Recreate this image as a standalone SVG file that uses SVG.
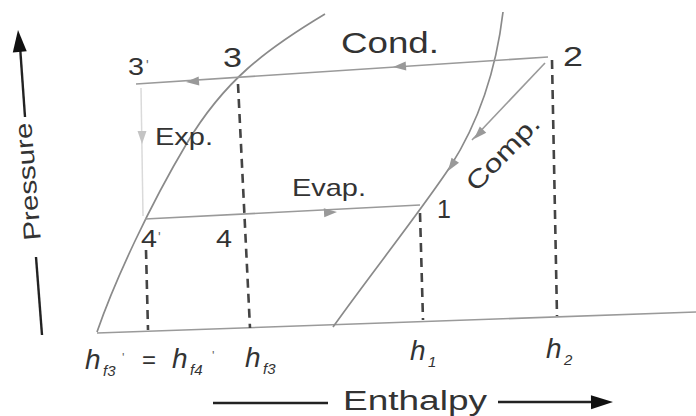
<svg xmlns="http://www.w3.org/2000/svg" width="696" height="416" viewBox="0 0 696 416">
<style>
.t{font-family:"Liberation Sans",Arial,sans-serif;fill:#333}
.h{font-family:"Liberation Sans",Arial,sans-serif;font-style:italic;fill:#333}
.p{font-family:"Liberation Sans",Arial,sans-serif;fill:#666}
.ln{stroke:#9a9a9a;stroke-width:1.6;fill:none}
.cv{stroke:#8a8a8a;stroke-width:1.7;fill:none}
.fa{stroke:#dadada;stroke-width:1.5;fill:none}
.ds{stroke:#444;stroke-width:2.6;stroke-dasharray:9 6;fill:none}
.ax{stroke:#222;stroke-width:2.4;fill:none}
.ah{fill:#999}
.al{fill:#c4c4c4}
.bh{fill:#111}
</style>
<defs>
<path id="ah" d="M0,0 L-13,-4.5 L-13,4.5 Z"/>
<path id="bh" d="M0,0 L-22,-7 L-22,7 Z"/>
</defs>
<rect width="696" height="416" fill="#fff"/>
<g id="connectors">
<path class="ln" d="M97,333 L696,312"/>
<path class="cv" d="M97,332 C115,280 150,205 187,143 S265,50 325,14"/>
<path class="cv" d="M333,327 C370,275 420,212 450,167 C475,128 495,80 503,12"/>
<path class="ln" d="M548,57 L136,84"/>
<path class="fa" d="M141,88 L143,216"/>
<path class="ln" d="M145,219 L420,205"/>
<path class="ln" d="M545,63 L472,140"/>
<path class="ds" d="M238,84 L250,328"/>
<path class="ds" d="M146,250 L148,330"/>
<path class="ds" d="M420,213 L423,320"/>
<path class="ds" d="M552,60 L557,316"/>
<use href="#ah" class="ah" transform="translate(393,67) rotate(176)"/>
<use href="#ah" class="ah" transform="translate(186,82) rotate(176)"/>
<use href="#ah" class="al" transform="translate(142,144) rotate(90)"/>
<use href="#ah" class="ah" transform="translate(337,212) rotate(-3)"/>
<use href="#ah" class="ah" transform="translate(474,139) rotate(134)"/>
<use href="#ah" class="ah" transform="translate(448,171) rotate(124)"/>
<path class="ax" d="M20,46 L25,117"/>
<path class="ax" d="M36,257 L42,335"/>
<use href="#bh" class="bh" transform="translate(18,30) rotate(-94.6)"/>
<path class="ax" d="M213,403 L328,403"/>
<path class="ax" d="M498,402 L595,402"/>
<use href="#bh" class="bh" transform="translate(613,402) rotate(-0.5)"/>
</g>
<g id="state-3prime"><text class="t" x="128" y="75" font-size="23" textLength="16" lengthAdjust="spacingAndGlyphs">3</text><text class="p" x="146" y="70" font-size="14">'</text></g>
<g id="state-3"><text class="t" x="223" y="67" font-size="27" textLength="19" lengthAdjust="spacingAndGlyphs">3</text></g>
<g id="state-2"><text class="t" x="563" y="66" font-size="27" textLength="20" lengthAdjust="spacingAndGlyphs">2</text></g>
<g id="state-1"><text class="t" x="437" y="218" font-size="25">1</text></g>
<g id="state-4prime"><text class="t" x="141" y="247" font-size="23" textLength="16" lengthAdjust="spacingAndGlyphs">4</text><text class="p" x="158" y="242" font-size="14">'</text></g>
<g id="state-4"><text class="t" x="216" y="247" font-size="23" textLength="16" lengthAdjust="spacingAndGlyphs">4</text></g>
<g id="label-cond"><text class="t" x="341" y="53" font-size="30" textLength="98" lengthAdjust="spacingAndGlyphs">Cond.</text></g>
<g id="label-exp"><text class="t" x="155" y="145" font-size="23" textLength="58" lengthAdjust="spacingAndGlyphs">Exp.</text></g>
<g id="label-evap"><text class="t" x="292" y="196" font-size="24" textLength="74" lengthAdjust="spacingAndGlyphs">Evap.</text></g>
<g id="label-comp"><text class="t" font-size="25" text-anchor="middle" textLength="94" lengthAdjust="spacingAndGlyphs" transform="translate(509,159) rotate(-46)">Comp.</text></g>
<g id="axis-pressure"><text class="t" font-size="24" text-anchor="middle" textLength="118" lengthAdjust="spacingAndGlyphs" transform="translate(36,181) rotate(-94.6)">Pressure</text></g>
<g id="axis-enthalpy"><text class="t" x="343" y="410" font-size="27" textLength="144" lengthAdjust="spacingAndGlyphs">Enthalpy</text></g>
<g id="tick-hf3p"><text class="h" x="85" y="369" font-size="28">h</text><text class="h" x="103" y="376" font-size="15">f3</text><text class="p" x="122" y="362" font-size="13">'</text></g>
<g id="tick-eq"><text class="t" x="142" y="368" font-size="24">=</text></g>
<g id="tick-hf4p"><text class="h" x="172" y="368" font-size="28">h</text><text class="h" x="190" y="375" font-size="15">f4</text><text class="p" x="212" y="360" font-size="13">'</text></g>
<g id="tick-hf3"><text class="h" x="245" y="367" font-size="28">h</text><text class="h" x="263" y="374" font-size="15">f3</text></g>
<g id="tick-h1"><text class="h" x="410" y="360" font-size="28">h</text><text class="h" x="428" y="367" font-size="15">1</text></g>
<g id="tick-h2"><text class="h" x="546" y="358" font-size="28">h</text><text class="h" x="564" y="365" font-size="15">2</text></g>
</svg>
